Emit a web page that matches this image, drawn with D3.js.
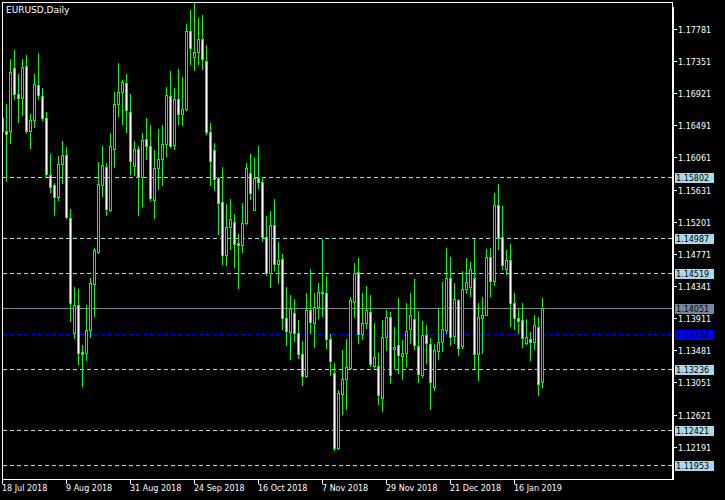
<!DOCTYPE html>
<html><head><meta charset="utf-8">
<script src="https://cdn.jsdelivr.net/npm/d3@7"></script>
<style>html,body{margin:0;padding:0;background:#000;overflow:hidden}svg{display:block}</style>
</head><body><svg id="c" width="725" height="500"></svg>
<script>
// ---- data (EURUSD, Daily) ----
const opens = [1.16582,1.16408,1.16417,1.17260,1.16912,1.16858,1.17290,1.16408,1.16559,1.17023,1.16880,1.16591,1.15824,1.15686,1.15535,1.15976,1.16096,1.15249,1.13717,1.14091,1.13453,1.13440,1.13757,1.14366,1.14794,1.15690,1.15936,1.15356,1.16167,1.16769,1.16933,1.17059,1.16675,1.15944,1.16167,1.15802,1.16301,1.16217,1.15489,1.15923,1.16043,1.16243,1.16880,1.16225,1.16836,1.16635,1.16702,1.17749,1.17407,1.17468,1.17647,1.17353,1.16404,1.16154,1.15789,1.15463,1.14759,1.15128,1.15201,1.14910,1.14888,1.15178,1.15856,1.15356,1.15789,1.15735,1.14995,1.14513,1.15161,1.14639,1.14706,1.13917,1.13730,1.13984,1.13717,1.13436,1.13136,1.14015,1.13850,1.14059,1.14265,1.14251,1.13627,1.13182,1.12170,1.12901,1.13092,1.13249,1.14131,1.14532,1.13703,1.13850,1.13997,1.13270,1.13270,1.12842,1.13663,1.13930,1.13497,1.13547,1.13404,1.13440,1.13761,1.13894,1.13537,1.13146,1.13680,1.13569,1.12995,1.13471,1.13596,1.13751,1.14452,1.13671,1.14148,1.13537,1.14295,1.14331,1.14452,1.13436,1.13912,1.13952,1.14733,1.14406,1.15419,1.15000,1.14572,1.14683,1.14118,1.13908,1.13881,1.13583,1.13636,1.13596,1.13797,1.13061];
const highs = [1.16608,1.16782,1.17380,1.17491,1.17170,1.17380,1.17437,1.16635,1.17183,1.17451,1.16992,1.16675,1.16100,1.15713,1.16078,1.16274,1.16194,1.15365,1.14322,1.14295,1.13547,1.14091,1.14443,1.14844,1.16003,1.16217,1.15989,1.16391,1.16933,1.17326,1.17094,1.17183,1.16903,1.16274,1.16211,1.16391,1.16591,1.16488,1.16158,1.16435,1.16488,1.17006,1.17210,1.16983,1.17237,1.17143,1.17839,1.18026,1.18129,1.17919,1.17972,1.17571,1.16515,1.16248,1.15802,1.15936,1.15432,1.15499,1.15298,1.15031,1.15455,1.15989,1.16100,1.16056,1.16211,1.15802,1.15276,1.15342,1.15499,1.14933,1.14763,1.14326,1.14215,1.14162,1.13885,1.13604,1.14242,1.14563,1.14242,1.14376,1.14964,1.14473,1.13694,1.13306,1.12945,1.13480,1.13627,1.14198,1.14643,1.14719,1.14242,1.14340,1.14215,1.13841,1.13449,1.13881,1.14019,1.13992,1.13797,1.14185,1.13614,1.14118,1.14242,1.14429,1.14005,1.13868,1.13814,1.13650,1.13569,1.14028,1.14393,1.14853,1.14733,1.14385,1.14162,1.14540,1.14719,1.14660,1.14964,1.14108,1.14192,1.14830,1.14844,1.15579,1.15699,1.15409,1.14817,1.14897,1.14242,1.14028,1.14108,1.13904,1.13730,1.13948,1.13925,1.14175];
const lows = [1.16368,1.15743,1.16257,1.16836,1.16532,1.16626,1.16391,1.16185,1.16471,1.16836,1.16559,1.15810,1.15596,1.15289,1.15489,1.15713,1.15249,1.13872,1.13644,1.13293,1.13003,1.13350,1.13663,1.13939,1.14786,1.15543,1.15289,1.15342,1.15931,1.16613,1.16502,1.16399,1.15833,1.15820,1.15289,1.15409,1.16034,1.15485,1.15249,1.15632,1.15686,1.16078,1.16198,1.16167,1.16502,1.16488,1.16689,1.17304,1.17228,1.17304,1.17237,1.16368,1.15686,1.15623,1.15031,1.14630,1.14620,1.14840,1.14594,1.14309,1.14794,1.15165,1.15499,1.15352,1.15655,1.14941,1.14483,1.14326,1.14550,1.14376,1.13761,1.13551,1.13360,1.13604,1.13382,1.13016,1.13123,1.13717,1.13524,1.13912,1.13939,1.13511,1.13150,1.12147,1.12156,1.12634,1.12691,1.13235,1.13925,1.13583,1.13636,1.13783,1.13270,1.13249,1.12758,1.12668,1.13480,1.13039,1.13239,1.13172,1.13092,1.13270,1.13583,1.13493,1.13056,1.13128,1.13306,1.12691,1.12945,1.13360,1.13471,1.13707,1.13547,1.13583,1.13417,1.13507,1.14251,1.14206,1.13239,1.13083,1.13440,1.13948,1.14206,1.14353,1.14830,1.14563,1.14496,1.13805,1.13761,1.13717,1.13524,1.13560,1.13350,1.13503,1.12882,1.12989];
const closes = [1.16408,1.16372,1.17206,1.16912,1.16858,1.17273,1.16417,1.16564,1.17046,1.16899,1.16591,1.15842,1.15669,1.15535,1.15976,1.16096,1.15262,1.14118,1.14091,1.13440,1.13433,1.13757,1.14385,1.14817,1.15699,1.15953,1.15374,1.16217,1.16778,1.16939,1.17063,1.16698,1.16016,1.16177,1.15802,1.16288,1.16217,1.15516,1.15923,1.16043,1.16243,1.16899,1.16211,1.16836,1.16635,1.16711,1.17749,1.17522,1.17474,1.17647,1.17380,1.16399,1.16011,1.15776,1.15455,1.14759,1.15134,1.15231,1.14906,1.14888,1.15187,1.15923,1.15588,1.15780,1.15735,1.14995,1.14513,1.15151,1.14639,1.14693,1.13917,1.13738,1.14028,1.13717,1.13426,1.13136,1.14015,1.13864,1.14064,1.14265,1.14242,1.13636,1.13337,1.12179,1.12905,1.13092,1.13262,1.14148,1.14519,1.13703,1.13850,1.14015,1.13302,1.13396,1.12878,1.13663,1.13930,1.13150,1.13529,1.13422,1.13449,1.13743,1.13957,1.13547,1.13159,1.13680,1.13574,1.13056,1.13480,1.13596,1.13761,1.14452,1.13663,1.14162,1.13507,1.14295,1.14398,1.14563,1.13436,1.13930,1.13957,1.14733,1.14406,1.15419,1.14987,1.14620,1.14683,1.14118,1.13917,1.13872,1.13650,1.13663,1.13596,1.13814,1.13035,1.14051];

const priceTicks = [1.17781,1.17351,1.16921,1.16491,1.16061,1.15631,1.15201,1.14771,1.14341,1.13911,1.13481,1.13051,1.12621,1.12191];
const dateTickIndex = [0,16,32,48,64,80,96,112,128];
const dateTickLabels = ["18 Jul 2018","9 Aug 2018","31 Aug 2018","24 Sep 2018","16 Oct 2018","7 Nov 2018","29 Nov 2018","21 Dec 2018","16 Jan 2019"];
const levelPrices = [1.15802,1.14987,1.14519,1.13236,1.12421,1.11953];
const bidPrice = 1.14051;
const bluePrice = 1.13704;
const title = "EURUSD,Daily";

// ---- drawing ----
const W = 725, H = 500;
const svg = d3.select("#c").attr("shape-rendering","crispEdges");
svg.append("rect").attr("width",W).attr("height",H).attr("fill","#000");

const x = d3.scaleLinear().domain([0, opens.length-1]).range([2, 2 + 4*(opens.length-1)]);
const y = d3.scaleLinear().domain([1.17781, 1.12191]).range([29.3, 447.3]);
const col = i => Math.round(x(i));
const row = v => Math.floor(y(v));

const FONT = "DejaVu Sans";
const LIME = "#00ff00", LBLUE = "#add8e6", SLATE = "#778899", BLUE = "#0000ff";

svg.append("defs").append("clipPath").attr("id","plot")
  .append("rect").attr("x",3).attr("y",3).attr("width",669).attr("height",476);

// level lines
const lv = svg.append("g");
levelPrices.forEach(p => {
  lv.append("line").attr("x1",3).attr("x2",672).attr("y1",row(p)+0.5).attr("y2",row(p)+0.5)
    .attr("stroke",LBLUE).attr("stroke-width",1).attr("stroke-dasharray","4,3");
});
lv.append("line").attr("x1",3).attr("x2",672).attr("y1",row(bidPrice)+0.5).attr("y2",row(bidPrice)+0.5)
  .attr("stroke",SLATE).attr("stroke-width",1);
lv.append("line").attr("x1",3).attr("x2",672).attr("y1",row(bluePrice)+0.5).attr("y2",row(bluePrice)+0.5)
  .attr("stroke",BLUE).attr("stroke-width",1).attr("stroke-dasharray","4,3");

// candles
const cg = svg.append("g").attr("clip-path","url(#plot)");
const idx = d3.range(opens.length);
cg.selectAll("rect.wick").data(idx).join("rect").attr("class","wick")
  .attr("x", i => col(i)).attr("y", i => row(highs[i]))
  .attr("width",1).attr("height", i => row(lows[i]) - row(highs[i]) + 1)
  .attr("fill", LIME);
cg.selectAll("rect.body").data(idx).join("rect").attr("class","body")
  .attr("x", i => col(i)-1).attr("y", i => row(Math.max(opens[i],closes[i])))
  .attr("width",3).attr("height", i => row(Math.min(opens[i],closes[i])) - row(Math.max(opens[i],closes[i])) + 1)
  .attr("fill", LIME);
cg.selectAll("rect.fill").data(idx.filter(i => row(Math.min(opens[i],closes[i])) - row(Math.max(opens[i],closes[i])) >= 2))
  .join("rect").attr("class","fill")
  .attr("x", i => col(i)).attr("y", i => row(Math.max(opens[i],closes[i])) + 1)
  .attr("width",1).attr("height", i => row(Math.min(opens[i],closes[i])) - row(Math.max(opens[i],closes[i])) - 1)
  .attr("fill", i => closes[i] < opens[i] ? "#ffffff" : "#000000");

// frame
const fr = svg.append("g").attr("fill","#fff");
fr.append("rect").attr("x",2).attr("y",2).attr("width",671).attr("height",1);
fr.append("rect").attr("x",2).attr("y",2).attr("width",1).attr("height",478);
fr.append("rect").attr("x",2).attr("y",479).attr("width",671).attr("height",1);
fr.append("rect").attr("x",672).attr("y",2).attr("width",1).attr("height",478);
fr.append("rect").attr("x",672).attr("y",7).attr("width",2).attr("height",473);

// price axis ticks & labels
const pa = svg.append("g");
priceTicks.forEach(p => {
  const r = row(p);
  pa.append("rect").attr("x",674).attr("y",r).attr("width",3).attr("height",1).attr("fill","#fff");
  pa.append("text").attr("x",678).attr("y",r+4).text(p.toFixed(5))
    .attr("fill","#fff").attr("font-family",FONT).attr("font-size","8px");
});
// level price boxes
function box(p, bg) {
  const r = row(p);
  pa.append("rect").attr("x",675).attr("y",r-4).attr("width",39).attr("height",10).attr("fill",bg);
  pa.append("text").attr("x",676).attr("y",r+4).text(p.toFixed(5))
    .attr("fill","#000").attr("font-family",FONT).attr("font-size","8px");
}
levelPrices.forEach(p => box(p, LBLUE));
box(bidPrice, SLATE);
box(bluePrice, BLUE);

// time axis
const ta = svg.append("g");
dateTickIndex.forEach((k, j) => {
  const c = col(k);
  ta.append("rect").attr("x",c).attr("y",480).attr("width",1).attr("height",4).attr("fill","#fff");
  ta.append("text").attr("x",c).attr("y",491).text(dateTickLabels[j])
    .attr("fill","#fff").attr("font-family",FONT).attr("font-size","8px");
});

// title
svg.append("text").attr("x",6).attr("y",13).text(title)
  .attr("fill","#fff").attr("font-family",FONT).attr("font-size","9px");
</script>
</body></html>
